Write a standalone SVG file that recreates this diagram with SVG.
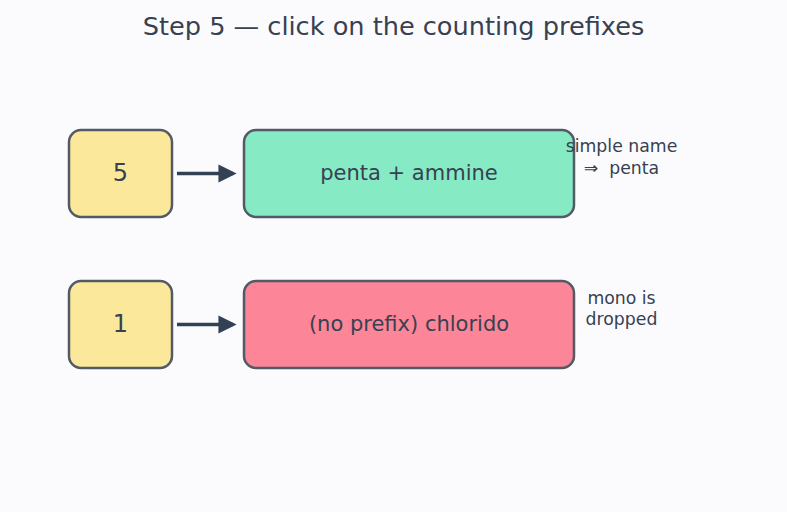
<svg xmlns="http://www.w3.org/2000/svg" width="787" height="512" viewBox="0 0 787 512">
<defs>
<style>
text{font-family:"DejaVu Sans","Liberation Sans",sans-serif;fill:#374151}
.box{stroke:#525a66;stroke-width:2.5}
.num{font-size:24px;text-anchor:middle;dominant-baseline:central}
.lbl{font-size:21px;text-anchor:middle;dominant-baseline:central}
.note{font-size:17.3px;text-anchor:middle;white-space:pre}
.conn{stroke:#334155;stroke-width:3.5;fill:none;marker-end:url(#ah)}
</style>
<marker id="ah" viewBox="0 0 10 10" refX="8" refY="5" markerWidth="5.2" markerHeight="5.2" orient="auto" markerUnits="strokeWidth">
<path d="M0,0 L10,5 L0,10 z" fill="#334155"/>
</marker>
</defs>
<rect width="787" height="512" fill="#fbfbfe"/>
<text x="393.5" y="35" font-size="25.6" text-anchor="middle">Step 5 — click on the counting prefixes</text>
<g id="n5">
<rect class="box" x="69" y="130" width="103" height="87" rx="12" fill="#fce89b"/>
<text class="num" x="120.5" y="173">5</text>
</g>
<g id="penta">
<rect class="box" x="244" y="130" width="330" height="87" rx="12" fill="#86eac4" stroke="#3f5f66"/>
<text class="lbl" x="409" y="173">penta + ammine</text>
</g>
<g id="n1">
<rect class="box" x="69" y="281" width="103" height="87" rx="12" fill="#fce89b"/>
<text class="num" x="120.5" y="324">1</text>
</g>
<g id="chlorido">
<rect class="box" x="244" y="281" width="330" height="87" rx="12" fill="#fd8598"/>
<text class="lbl" x="409" y="324">(no prefix) chlorido</text>
</g>
<g id="connectors">
<line class="conn" x1="177" y1="173.5" x2="233" y2="173.5"/>
<line class="conn" x1="177" y1="324.5" x2="233" y2="324.5"/>
</g>
<g id="notes">
<text class="note" x="621.5" y="152">simple name</text>
<text class="note" x="621.5" y="174" xml:space="preserve">⇒  penta</text>
<text class="note" x="621.5" y="304">mono is</text>
<text class="note" x="621.5" y="325">dropped</text>
</g>
</svg>
